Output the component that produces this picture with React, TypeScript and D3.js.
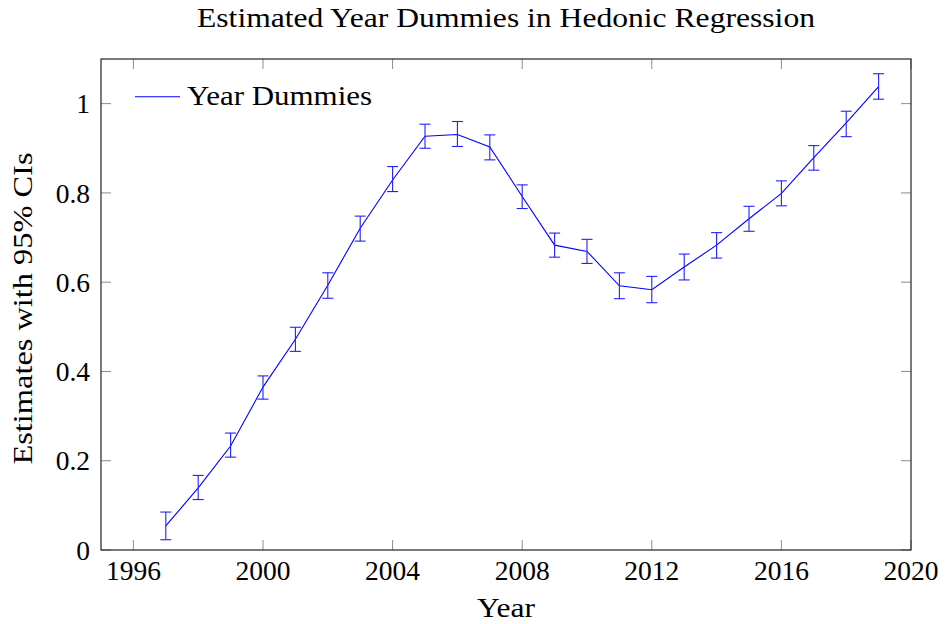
import { useEffect, useRef } from "react";
import * as d3 from "d3";

const years = [1997, 1998, 1999, 2000, 2001, 2002, 2003, 2004, 2005, 2006, 2007, 2008, 2009, 2010, 2011, 2012, 2013, 2014, 2015, 2016, 2017, 2018, 2019];
const estimates = [0.054, 0.139, 0.233, 0.365, 0.472, 0.593, 0.721, 0.829, 0.927, 0.931, 0.903, 0.792, 0.683, 0.669, 0.592, 0.583, 0.634, 0.683, 0.742, 0.799, 0.879, 0.957, 1.038];
const ciLow = [0.023, 0.113, 0.208, 0.338, 0.445, 0.564, 0.692, 0.803, 0.900, 0.904, 0.874, 0.765, 0.656, 0.642, 0.563, 0.554, 0.605, 0.654, 0.714, 0.771, 0.851, 0.926, 1.010];
const ciHigh = [0.085, 0.167, 0.262, 0.390, 0.499, 0.621, 0.748, 0.859, 0.954, 0.960, 0.930, 0.818, 0.710, 0.696, 0.621, 0.613, 0.663, 0.711, 0.770, 0.827, 0.906, 0.983, 1.067];
const xTicks = [1996, 2000, 2004, 2008, 2012, 2016, 2020];
const yTicks = [0, 0.2, 0.4, 0.6, 0.8, 1];

const FONT = "'Liberation Serif', 'DejaVu Serif', serif";

export default function App() {
  const svgRef = useRef<SVGSVGElement>(null);

  useEffect(() => {
    const width = 945;
    const height = 624;
    const margin = { top: 59, right: 34, bottom: 74, left: 101 };
    const w = width - margin.left - margin.right;
    const h = height - margin.top - margin.bottom;

    const svg = d3.select(svgRef.current)
      .attr("width", width)
      .attr("height", height)
      .html(null);

    const g = svg.append("g").attr("transform", `translate(${margin.left},${margin.top})`);

    const x = d3.scaleLinear().domain([1995, 2020]).range([0, w]);
    const y = d3.scaleLinear().domain([0, 1.1]).range([h, 0]);

    const tickLen = 10;
    const tickColor = "#8c8c8c";

    // ticks inside, on all four sides
    xTicks.forEach(t => {
      g.append("line").attr("x1", x(t)).attr("x2", x(t)).attr("y1", h).attr("y2", h - tickLen)
        .attr("stroke", tickColor).attr("stroke-width", 1);
      g.append("line").attr("x1", x(t)).attr("x2", x(t)).attr("y1", 0).attr("y2", tickLen)
        .attr("stroke", tickColor).attr("stroke-width", 1);
      g.append("text").attr("x", x(t)).attr("y", h + 30)
        .attr("text-anchor", "middle").style("font-family", FONT).style("font-size", "27.5px")
        .text(String(t));
    });
    yTicks.forEach(t => {
      g.append("line").attr("x1", 0).attr("x2", tickLen).attr("y1", y(t)).attr("y2", y(t))
        .attr("stroke", tickColor).attr("stroke-width", 1);
      g.append("line").attr("x1", w).attr("x2", w - tickLen).attr("y1", y(t)).attr("y2", y(t))
        .attr("stroke", tickColor).attr("stroke-width", 1);
      g.append("text").attr("x", -11).attr("y", y(t)).attr("dy", "0.35em")
        .attr("text-anchor", "end").style("font-family", FONT).style("font-size", "27.5px")
        .text(d3.format("~g")(t));
    });

    // frame
    g.append("rect").attr("x", 0).attr("y", 0).attr("width", w).attr("height", h)
      .attr("fill", "none").attr("stroke", "#222").attr("stroke-width", 1.2);

    const line = d3.line<number>()
      .x((_, i) => x(years[i]))
      .y(d => y(d));

    g.append("path").datum(estimates)
      .attr("fill", "none").attr("stroke", "#0000ff").attr("stroke-width", 1.1)
      .attr("d", line);

    const cap = 5.5;
    years.forEach((yr, i) => {
      const cx = x(yr);
      const eg = g.append("g").attr("stroke", "#2020ff").attr("stroke-width", 1.1);
      eg.append("line").attr("x1", cx).attr("x2", cx).attr("y1", y(ciLow[i])).attr("y2", y(ciHigh[i]));
      eg.append("line").attr("x1", cx - cap).attr("x2", cx + cap).attr("y1", y(ciLow[i])).attr("y2", y(ciLow[i]));
      eg.append("line").attr("x1", cx - cap).attr("x2", cx + cap).attr("y1", y(ciHigh[i])).attr("y2", y(ciHigh[i]));
    });

    // legend
    g.append("line").attr("x1", 34).attr("x2", 79).attr("y1", 37.7).attr("y2", 37.7)
      .attr("stroke", "#0000ff").attr("stroke-width", 1.1);
    g.append("text").attr("x", 86).attr("y", 46)
      .attr("textLength", 185).attr("lengthAdjust", "spacingAndGlyphs")
      .style("font-family", FONT).style("font-size", "28px")
      .text("Year Dummies");

    // title
    svg.append("text").attr("x", margin.left + w / 2).attr("y", 27)
      .attr("text-anchor", "middle")
      .attr("textLength", 618).attr("lengthAdjust", "spacingAndGlyphs")
      .style("font-family", FONT).style("font-size", "28px")
      .text("Estimated Year Dummies in Hedonic Regression");

    // axis labels
    svg.append("text").attr("x", margin.left + w / 2).attr("y", 617)
      .attr("text-anchor", "middle")
      .attr("textLength", 58).attr("lengthAdjust", "spacingAndGlyphs")
      .style("font-family", FONT).style("font-size", "28px")
      .text("Year");
    svg.append("text")
      .attr("transform", `translate(32,${margin.top + h / 2 + 4}) rotate(-90)`)
      .attr("text-anchor", "middle")
      .attr("textLength", 312).attr("lengthAdjust", "spacingAndGlyphs")
      .style("font-family", FONT).style("font-size", "28px")
      .text("Estimates with 95% CIs");
  }, []);

  return <svg ref={svgRef} style={{ display: "block", position: "absolute", left: 0, top: 0 }}></svg>;
}
